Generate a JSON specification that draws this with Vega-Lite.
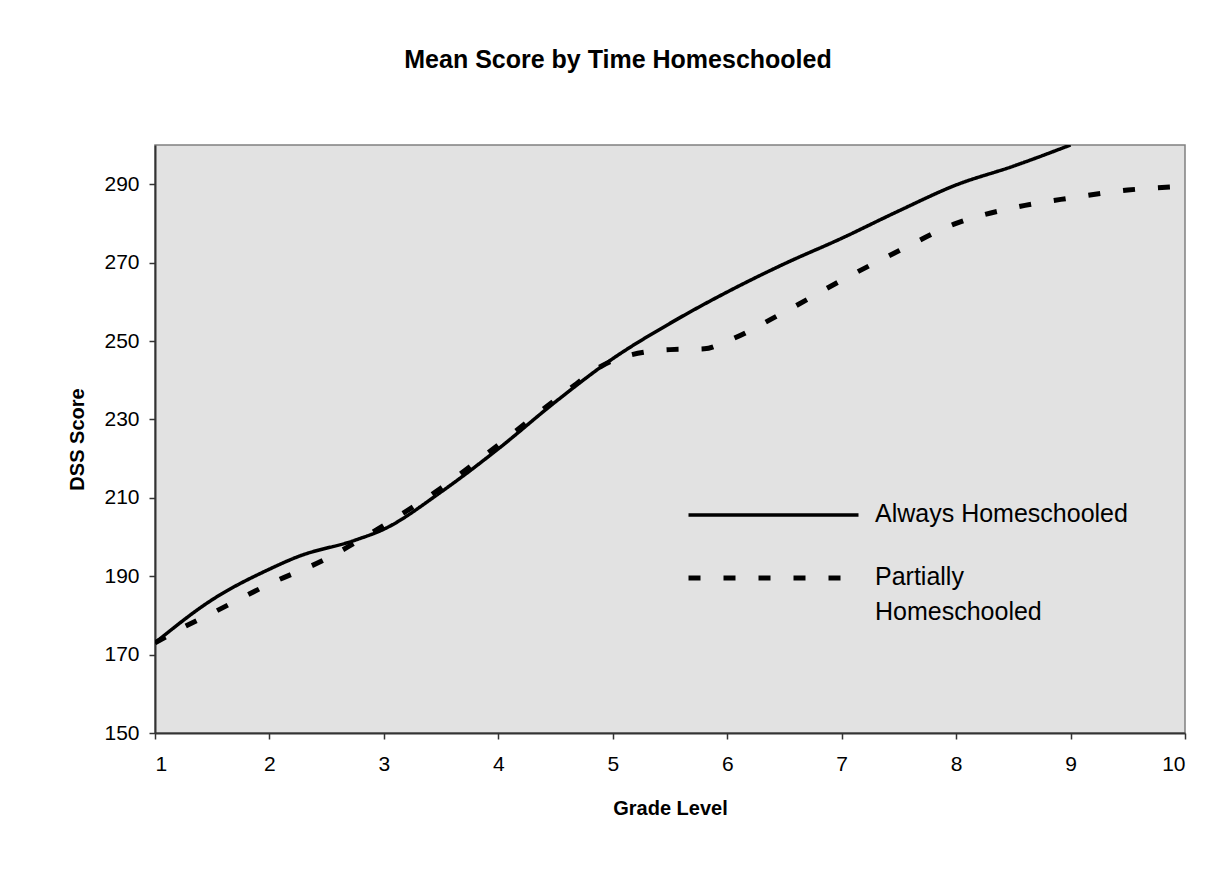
{
  "$schema": "https://vega.github.io/schema/vega-lite/v6.json",
  "autosize": {"type": "none"},
  "padding": {"left": 155, "top": 145, "right": 40, "bottom": 144},
  "width": 1030,
  "height": 588,
  "background": "white",
  "title": {
    "text": "Mean Score by Time Homeschooled",
    "font": "Liberation Sans",
    "fontSize": 25,
    "fontWeight": "bold",
    "color": "black",
    "anchor": "middle",
    "baseline": "middle",
    "dx": -52,
    "offset": 60
  },
  "data": {
    "values": [
      {"grade": 1, "score": 173, "series": "Always Homeschooled"},
      {"grade": 1.5, "score": 184, "series": "Always Homeschooled"},
      {"grade": 2, "score": 191.8, "series": "Always Homeschooled"},
      {"grade": 2.25, "score": 195, "series": "Always Homeschooled"},
      {"grade": 2.75, "score": 199.2, "series": "Always Homeschooled"},
      {"grade": 3, "score": 202, "series": "Always Homeschooled"},
      {"grade": 3.5, "score": 211.5, "series": "Always Homeschooled"},
      {"grade": 4, "score": 222.5, "series": "Always Homeschooled"},
      {"grade": 4.5, "score": 234.5, "series": "Always Homeschooled"},
      {"grade": 5, "score": 245.5, "series": "Always Homeschooled"},
      {"grade": 5.5, "score": 254.5, "series": "Always Homeschooled"},
      {"grade": 6, "score": 262.5, "series": "Always Homeschooled"},
      {"grade": 6.5, "score": 269.7, "series": "Always Homeschooled"},
      {"grade": 7, "score": 276.2, "series": "Always Homeschooled"},
      {"grade": 7.5, "score": 283.2, "series": "Always Homeschooled"},
      {"grade": 8, "score": 289.8, "series": "Always Homeschooled"},
      {"grade": 8.5, "score": 294.6, "series": "Always Homeschooled"},
      {"grade": 9, "score": 300, "series": "Always Homeschooled"},
      {"grade": 1, "score": 173, "series": "Partially Homeschooled"},
      {"grade": 1.25, "score": 177, "series": "Partially Homeschooled"},
      {"grade": 1.5, "score": 180.6, "series": "Partially Homeschooled"},
      {"grade": 2, "score": 188, "series": "Partially Homeschooled"},
      {"grade": 2.5, "score": 194.5, "series": "Partially Homeschooled"},
      {"grade": 3, "score": 203, "series": "Partially Homeschooled"},
      {"grade": 3.5, "score": 212.5, "series": "Partially Homeschooled"},
      {"grade": 4, "score": 223.5, "series": "Partially Homeschooled"},
      {"grade": 4.5, "score": 235, "series": "Partially Homeschooled"},
      {"grade": 5, "score": 245, "series": "Partially Homeschooled"},
      {"grade": 5.5, "score": 247.8, "series": "Partially Homeschooled"},
      {"grade": 5.8, "score": 248, "series": "Partially Homeschooled"},
      {"grade": 6, "score": 250, "series": "Partially Homeschooled"},
      {"grade": 6.5, "score": 257.4, "series": "Partially Homeschooled"},
      {"grade": 7, "score": 265.5, "series": "Partially Homeschooled"},
      {"grade": 7.5, "score": 273, "series": "Partially Homeschooled"},
      {"grade": 8, "score": 280, "series": "Partially Homeschooled"},
      {"grade": 8.5, "score": 284, "series": "Partially Homeschooled"},
      {"grade": 9, "score": 286.5, "series": "Partially Homeschooled"},
      {"grade": 9.5, "score": 288.5, "series": "Partially Homeschooled"},
      {"grade": 10, "score": 289.5, "series": "Partially Homeschooled"}
    ]
  },
  "mark": {"type": "line", "interpolate": "monotone", "color": "black", "strokeCap": "butt", "clip": true},
  "encoding": {
    "x": {
      "field": "grade",
      "type": "quantitative",
      "scale": {"domain": [1, 10], "nice": false, "zero": false},
      "axis": {"title": "Grade Level", "values": [1, 2, 3, 4, 5, 6, 7, 8, 9, 10], "labelPadding": 14, "titlePadding": 24}
    },
    "y": {
      "field": "score",
      "type": "quantitative",
      "scale": {"domain": [150, 300], "nice": false, "zero": false},
      "axis": {"title": "DSS Score", "values": [150, 170, 190, 210, 230, 250, 270, 290], "labelPadding": 10, "titlePadding": 16}
    },
    "strokeDash": {
      "field": "series",
      "type": "nominal",
      "scale": {"domain": ["Always Homeschooled", "Partially Homeschooled"], "range": [[1, 0], [12, 23]]},
      "legend": {
        "title": null,
        "orient": "none",
        "legendX": 531,
        "legendY": 357,
        "symbolType": "stroke",
        "symbolSize": 28900,
        "symbolStrokeColor": "black",
        "symbolStrokeWidth": 5,
        "labelFont": "Liberation Sans",
        "labelFontSize": 25,
        "labelColor": "black",
        "labelOffset": 14,
        "labelLimit": 500,
        "labelBaseline": "top",
        "clipHeight": 26,
        "rowPadding": 37,
        "labelExpr": "datum.label == 'Partially Homeschooled' ? ['Partially', 'Homeschooled'] : datum.label",
        "encode": {"labels": {"update": {"dy": {"value": -13}, "lineHeight": {"value": 35}}}}
      }
    },
    "strokeWidth": {
      "field": "series",
      "type": "nominal",
      "scale": {"domain": ["Always Homeschooled", "Partially Homeschooled"], "range": [3.5, 5]},
      "legend": null
    }
  },
  "config": {
    "view": {"fill": "#e2e2e2", "stroke": "#808080", "strokeWidth": 1.5},
    "axis": {
      "labelFont": "Liberation Sans",
      "labelFontSize": 21,
      "labelColor": "black",
      "titleFont": "Liberation Sans",
      "titleFontSize": 20,
      "titleFontWeight": "bold",
      "titleColor": "black",
      "domainColor": "#333333",
      "domainWidth": 2,
      "tickColor": "#333333",
      "tickWidth": 1.5,
      "tickSize": 6,
      "grid": false
    }
  }
}
